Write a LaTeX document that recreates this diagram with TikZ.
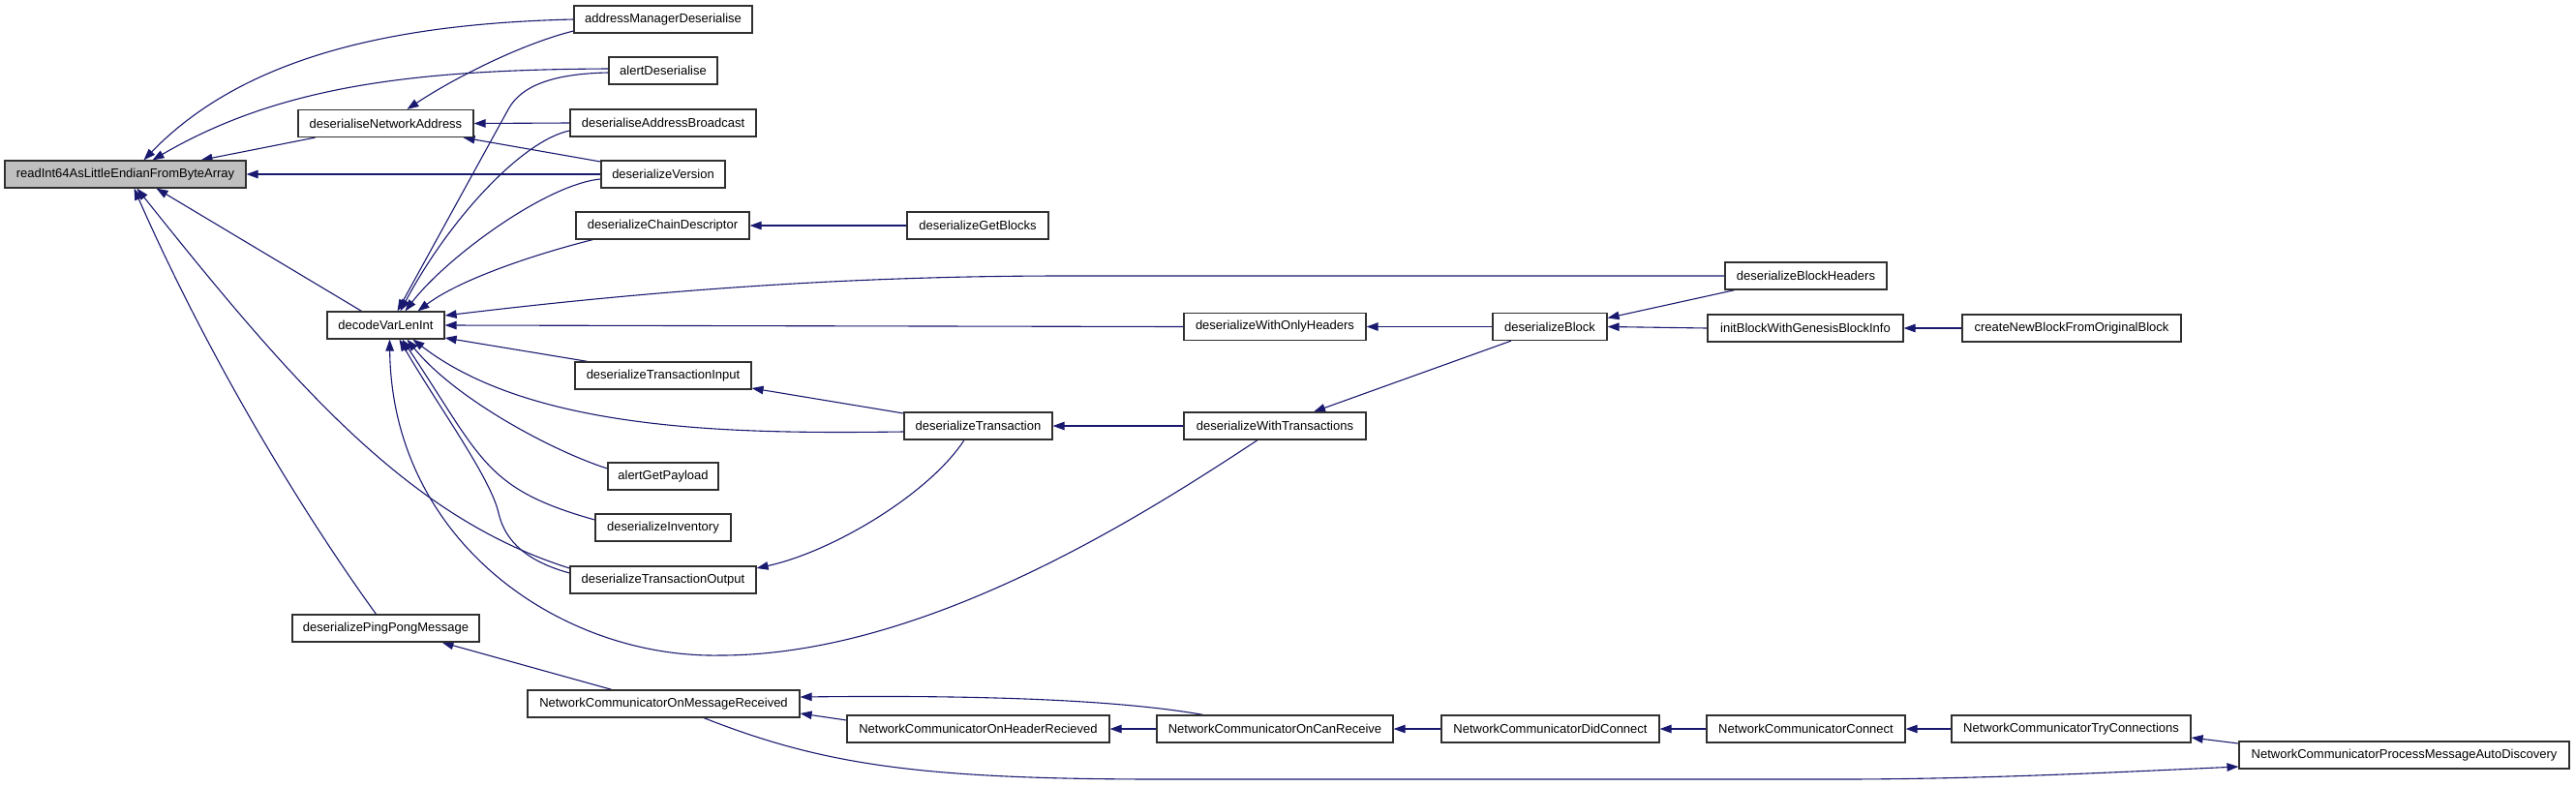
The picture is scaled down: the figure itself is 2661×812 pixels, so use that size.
\documentclass[tikz,border=0pt]{standalone}
\usepackage{fontspec}
\setmainfont{Liberation Sans}
\usetikzlibrary{arrows.meta}
\definecolor{edgec}{HTML}{191970}
\definecolor{boxc}{HTML}{303030}
\definecolor{rootc}{HTML}{BFBFBF}
\pgfdeclarelayer{bg}
\pgfsetlayers{bg,main}
\tikzset{
  fn/.style={draw=boxc, line width=1.2pt, fill=white, rectangle, inner sep=0pt,
    minimum height=28pt, font=\fontsize{13pt}{15pt}\selectfont},
  conn/.style={draw=edgec, line width=1.1pt, -{Triangle[length=12pt,width=8.5pt]}}
}
\begin{document}
\begin{tikzpicture}[x=1pt,y=-1pt]
\useasboundingbox (0,0) rectangle (2661,812);
% column 1
\node[fn, fill=rootc, minimum width=249pt] (R) at (129.5,180) {readInt64AsLittleEndianFromByteArray};
% column 2
\node[fn, minimum width=181pt] (dNA) at (398.5,127.5) {deserialiseNetworkAddress};
\node[fn, minimum width=121pt] (D) at (398.5,336) {decodeVarLenInt};
\node[fn, minimum width=193pt] (dPP) at (398.5,649) {deserializePingPongMessage};
% column 3
\node[fn, minimum width=184pt] (aMD) at (685,20) {addressManagerDeserialise};
\node[fn, minimum width=112pt] (aD) at (685,73) {alertDeserialise};
\node[fn, minimum width=192pt] (dAB) at (685,127) {deserialiseAddressBroadcast};
\node[fn, minimum width=128pt] (dV) at (685,180) {deserializeVersion};
\node[fn, minimum width=179pt] (dCD) at (684.5,233) {deserializeChainDescriptor};
\node[fn, minimum width=182pt] (dTI) at (685,388) {deserializeTransactionInput};
\node[fn, minimum width=114pt] (aGP) at (685,492) {alertGetPayload};
\node[fn, minimum width=140pt] (dI) at (685,545) {deserializeInventory};
\node[fn, minimum width=192pt] (dTO) at (685,599) {deserializeTransactionOutput};
\node[fn, minimum width=281pt] (OMR) at (685.5,727) {NetworkCommunicatorOnMessageReceived};
% column 4
\node[fn, minimum width=146pt] (dGB) at (1010,233) {deserializeGetBlocks};
\node[fn, minimum width=153pt] (dT) at (1010.5,440) {deserializeTransaction};
\node[fn, minimum width=271pt] (OHR) at (1010.5,753) {NetworkCommunicatorOnHeaderRecieved};
% column 5
\node[fn, minimum width=188pt] (dWOH) at (1317,337.5) {deserializeWithOnlyHeaders};
\node[fn, minimum width=188pt] (dWT) at (1317,440) {deserializeWithTransactions};
\node[fn, minimum width=244pt] (OCR) at (1317,753) {NetworkCommunicatorOnCanReceive};
% column 6
\node[fn, minimum width=118pt] (dB) at (1601,337.5) {deserializeBlock};
\node[fn, minimum width=225pt] (DC) at (1601.5,753) {NetworkCommunicatorDidConnect};
% column 7
\node[fn, minimum width=167pt] (dBH) at (1865.5,285) {deserializeBlockHeaders};
\node[fn, minimum width=202pt] (iBG) at (1865,339) {initBlockWithGenesisBlockInfo};
\node[fn, minimum width=205pt] (Con) at (1865.5,753) {NetworkCommunicatorConnect};
% column 8
\node[fn, minimum width=226pt] (cNB) at (2140,339) {createNewBlockFromOriginalBlock};
\node[fn, minimum width=247pt] (TC) at (2139.5,753) {NetworkCommunicatorTryConnections};
% column 9
\node[fn, minimum width=341pt] (PMAD) at (2483.5,780) {NetworkCommunicatorProcessMessageAutoDiscovery};

\begin{pgfonlayer}{bg}
% callers of readInt64
\draw[conn] (aMD.west) .. controls (430,24) and (260,50) .. ([xshift=19pt]R.north);
\draw[conn] ([yshift=2pt]aD.west) .. controls (430,72) and (290,88) .. ([xshift=28pt]R.north);
\draw[conn] ([xshift=-73pt]dNA.south) -- ([xshift=78pt]R.north);
\draw[conn] (dV.west) -- (R.east);
\draw[conn] ([xshift=-25pt]D.north) -- ([xshift=32pt]R.south);
\draw[conn] ([yshift=12pt]dTO.west) .. controls (423.5,535) and (306,401) .. ([xshift=12pt]R.south);
\draw[conn] ([xshift=-10pt]dPP.north) .. controls (320,540) and (220,380) .. ([xshift=9pt]R.south);
% callers of deserialiseNetworkAddress
\draw[conn] ([yshift=-12pt]aMD.west) .. controls (540,45) and (470,80) .. ([xshift=22pt]dNA.north);
\draw[conn] (dAB.west) -- (dNA.east);
\draw[conn] ([yshift=13pt]dV.west) -- ([xshift=80pt]dNA.south);
% callers of decodeVarLenInt (top)
\draw[conn] ([yshift=-2pt]aD.west) .. controls (575,76) and (539,87) .. (525,113) -- ([xshift=12pt]D.north);
\draw[conn] ([yshift=-8pt]dAB.west) .. controls (540,145) and (465,225) .. ([xshift=15pt]D.north);
\draw[conn] ([yshift=-5pt]dV.west) .. controls (565,190) and (462,265) .. ([xshift=20pt]D.north);
\draw[conn] ([xshift=-72pt]dCD.south) .. controls (570,258) and (480,285) .. ([xshift=33pt]D.north);
% right
\draw[conn] (dBH.west) -- (1100,285) .. controls (900,285) and (700,297) .. ([yshift=10pt]D.east);
\draw[conn] (dWOH.west) -- (D.east);
\draw[conn] ([xshift=-78pt]dTI.north) -- ([yshift=-13pt]D.east);
% bottom
\draw[conn] ([yshift=-6pt]dT.west) .. controls (770,448) and (553,448) .. ([xshift=28pt]D.south);
\draw[conn] ([yshift=8pt]aGP.west) .. controls (571,466) and (470,412) .. ([xshift=22pt]D.south);
\draw[conn] ([yshift=8pt]dI.west) .. controls (500,505) and (498,474) .. ([xshift=17pt]D.south);
\draw[conn] ([yshift=7pt]dTO.west) .. controls (545,580) and (522,560) .. (515,530) .. controls (507,494) and (453,420) .. ([xshift=14pt]D.south);
\draw[conn] ([xshift=-18pt]dWT.south) .. controls (1170,540) and (950,677) .. (744,677) .. controls (580,680) and (405,560) .. ([xshift=4pt]D.south);
% others
\draw[conn] (dGB.west) -- (dCD.east);
\draw[conn] ([yshift=13pt]dT.west) -- ([yshift=-13pt]dTI.east);
\draw[conn] ([xshift=-14.5pt]dT.south) .. controls (960,510) and (860,570) .. ([yshift=12pt]dTO.east);
\draw[conn] (dWT.west) -- (dT.east);
\draw[conn] (dB.west) -- (dWOH.east);
\draw[conn] ([xshift=-40pt]dB.south) -- ([xshift=40pt]dWT.north);
\draw[conn] ([xshift=-73.5pt]dBH.south) -- ([yshift=9pt]dB.east);
\draw[conn] (iBG.west) -- (dB.east);
\draw[conn] (cNB.west) -- (iBG.east);
\draw[conn] ([xshift=-53.5pt]OMR.north) -- ([xshift=58pt]dPP.south);
\draw[conn] ([xshift=-74pt]OCR.north) .. controls (1150,722) and (1000,718) .. ([yshift=7pt]OMR.east);
\draw[conn] ([yshift=9pt]OHR.west) -- ([yshift=-10pt]OMR.east);
\draw[conn] (OCR.west) -- (OHR.east);
\draw[conn] (DC.west) -- (OCR.east);
\draw[conn] (Con.west) -- (DC.east);
\draw[conn] (TC.west) -- (Con.east);
\draw[conn] ([yshift=12pt]PMAD.west) -- ([yshift=-9pt]TC.east);
\draw[conn] ([xshift=41.5pt]OMR.south) .. controls (850,790) and (950,805) .. (1200,805) -- (1900,805) .. controls (2050,805) and (2200,797) .. ([yshift=-12pt]PMAD.west);
\end{pgfonlayer}
\end{tikzpicture}
\end{document}
